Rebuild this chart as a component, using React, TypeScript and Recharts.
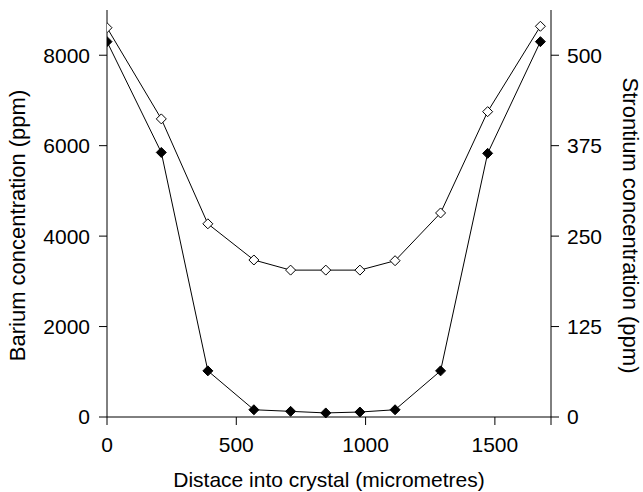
import {
  LineChart,
  Line,
  XAxis,
  YAxis,
  Label,
} from "recharts";

// distance along the crystal section (micrometres)
const distance = [0, 210, 390, 568, 710, 846, 978, 1114, 1290, 1472, 1676];
// barium, left axis (ppm)
const barium = [8300, 5850, 1020, 160, 125, 90, 110, 160, 1020, 5830, 8300];
// strontium, right axis (ppm)
const strontium = [538, 412, 267, 217, 203, 203, 203, 216, 282, 422, 540];

const xTicks = [0, 500, 1000, 1500, 1717];
const bariumTicks = [0, 2000, 4000, 6000, 8000];
const strontiumTicks = [0, 125, 250, 375, 500];

const data = distance.map((d, i) => ({
  distance: d,
  barium: barium[i],
  strontium: strontium[i],
}));

const font = "'Liberation Sans', Arial, sans-serif";
const tickStyle = { fontSize: 21, fill: "#000", fontFamily: font };
const titleStyle = { ...tickStyle, fontSize: 22, textAnchor: "middle" as const };

const Diamond = (props: any) => {
  const { cx, cy, filled } = props;
  if (cx == null || cy == null) return null;
  const r = 5;
  return (
    <path
      d={`M${cx},${cy - r}L${cx + r},${cy}L${cx},${cy + r}L${cx - r},${cy}Z`}
      fill={filled ? "#000" : "#fff"}
      stroke="#000"
      strokeWidth={1}
    />
  );
};

export default function App() {
  return (
    <div style={{ position: "absolute", left: 0, top: 0, background: "#fff" }}>
      <LineChart
        width={643}
        height={492}
        data={data}
        margin={{ top: 10, right: 0, bottom: 0, left: 0 }}
      >
        <XAxis
          dataKey="distance"
          type="number"
          domain={[0, 1717]}
          ticks={xTicks}
          tickFormatter={(v: number) => (v > 1600 ? "" : String(v))}
          height={75}
          stroke="#000"
          tick={tickStyle}
          tickSize={8}
          tickMargin={12}
          allowDataOverflow
        >
          <Label
            value="Distace into crystal (micrometres)"
            position="insideBottom"
            offset={5}
            style={{ ...tickStyle, textAnchor: "middle" }}
          />
        </XAxis>
        <YAxis
          yAxisId="left"
          orientation="left"
          domain={[0, 9000]}
          ticks={bariumTicks}
          width={107}
          stroke="#000"
          tick={tickStyle}
          tickSize={8}
          tickMargin={9}
        >
          <Label
            value="Barium concentration (ppm)"
            angle={-90}
            position="insideLeft"
            offset={17}
            dy={12}
            style={titleStyle}
          />
        </YAxis>
        <YAxis
          yAxisId="right"
          orientation="right"
          domain={[0, 562.5]}
          ticks={strontiumTicks}
          width={92}
          stroke="#000"
          tick={tickStyle}
          tickSize={8}
          tickMargin={8}
        >
          <Label
            value="Strontium concentration (ppm)"
            angle={90}
            position="insideRight"
            offset={12}
            dy={12}
            style={titleStyle}
          />
        </YAxis>
        <Line
          yAxisId="right"
          dataKey="strontium"
          type="linear"
          stroke="#000"
          strokeWidth={1}
          dot={(p: any) => <Diamond key={`s${p.index}`} {...p} filled={false} />}
          isAnimationActive={false}
        />
        <Line
          yAxisId="left"
          dataKey="barium"
          type="linear"
          stroke="#000"
          strokeWidth={1}
          dot={(p: any) => <Diamond key={`b${p.index}`} {...p} filled />}
          isAnimationActive={false}
        />
      </LineChart>
    </div>
  );
}
